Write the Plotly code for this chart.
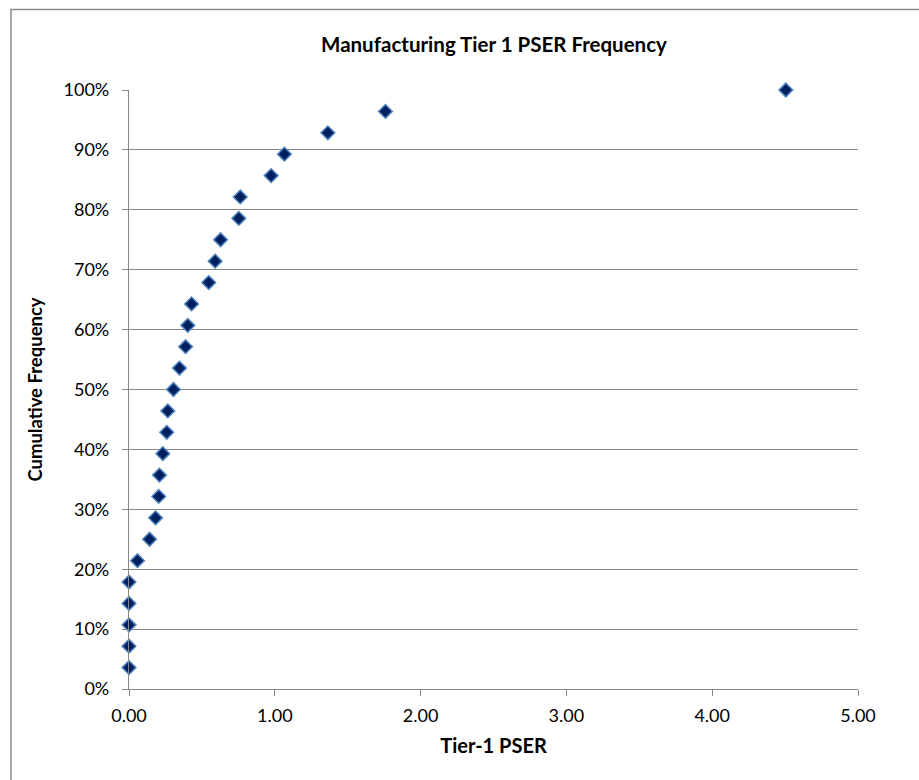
import plotly.graph_objects as go

title_text = "Manufacturing Tier 1 PSER Frequency"
x_title = "Tier-1 PSER"
y_title = "Cumulative Frequency"

pser = [0.0, 0.0, 0.0, 0.0, 0.0, 0.058, 0.141, 0.182, 0.204, 0.209, 0.232,
        0.259, 0.266, 0.305, 0.346, 0.388, 0.403, 0.429, 0.547, 0.591, 0.628,
        0.753, 0.763, 0.975, 1.066, 1.364, 1.759, 4.505]
cum_freq = [0.0357, 0.0714, 0.1071, 0.1429, 0.1786, 0.2143, 0.2500, 0.2857,
            0.3214, 0.3571, 0.3929, 0.4286, 0.4643, 0.5000, 0.5357, 0.5714,
            0.6071, 0.6429, 0.6786, 0.7143, 0.7500, 0.7857, 0.8214, 0.8571,
            0.8929, 0.9286, 0.9643, 1.0000]

FONT = "Lato"
GREY = "#878787"

fig = go.Figure()
fig.add_trace(go.Scatter(
    x=pser, y=cum_freq, mode="markers",
    marker=dict(symbol="diamond", size=10.5, color="#002060",
                line=dict(color="#4F81BD", width=1.5)),
    showlegend=False, cliponaxis=False,
))

W, H = 919, 780
ml, mr, mt, mb = 129, 61, 90, 91
pw, ph = W - ml - mr, H - mt - mb

fig.update_layout(
    width=W, height=H,
    margin=dict(l=ml, r=mr, t=mt, b=mb),
    paper_bgcolor="white", plot_bgcolor="white",
    font=dict(family=FONT, size=18, color="#000000"),
    title=dict(text="<b>" + title_text + "</b>", x=0.5375, xanchor="center",
               y=1 - 45 / H, yanchor="middle", yref="container",
               font=dict(family=FONT, size=20.5, color="#000000")),
    xaxis=dict(range=[0, 5], dtick=1, tick0=0, tickformat=".2f",
               showgrid=False, zeroline=False, showline=True,
               linecolor=GREY, linewidth=1.3, ticks="outside",
               ticklen=6, tickcolor=GREY, tickwidth=1.3,
               tickfont=dict(size=18), ticklabelstandoff=4,
               title=dict(text="<b>" + x_title + "</b>", standoff=14,
                          font=dict(size=20))),
    yaxis=dict(range=[0, 1], dtick=0.1, tick0=0, tickformat=".0%",
               showgrid=True, gridcolor=GREY, gridwidth=1.3,
               zeroline=False, showline=True, linecolor=GREY, linewidth=1.3,
               ticks="outside", ticklen=6, tickcolor=GREY, tickwidth=1.3,
               tickfont=dict(size=18), ticklabelstandoff=9,
               title=dict(text="<b>" + y_title + "</b>", standoff=16,
                          font=dict(size=18.5))),
)

# outer chart-area border (left and top edges visible)
fig.add_shape(type="rect", xref="paper", yref="paper",
              x0=(11 - ml) / pw, x1=(W + 20 - ml) / pw,
              y0=(H - mb - (H + 20)) / ph, y1=(H - mb - 9.5) / ph,
              line=dict(color="#8c8c8c", width=1.5), fillcolor="rgba(0,0,0,0)",
              layer="below")

fig.write_html("out.html")
